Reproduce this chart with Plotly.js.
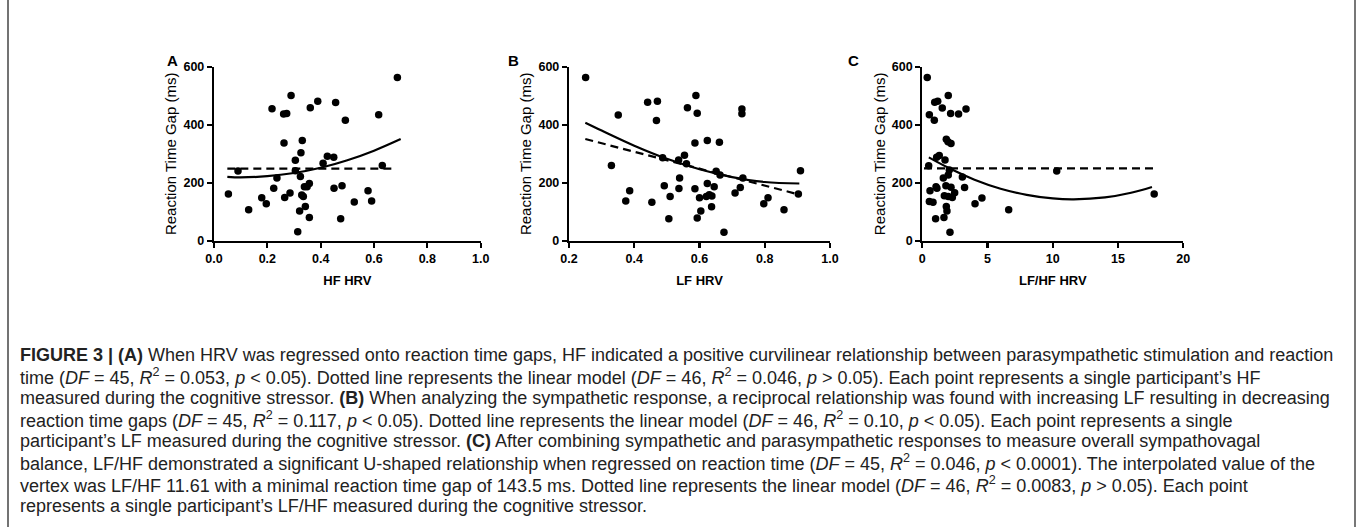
<!DOCTYPE html>
<html>
<head>
<meta charset="utf-8">
<script src="https://cdn.plot.ly/plotly-3.0.1.min.js"></script>
<style>html,body{margin:0;padding:0;background:#fff}#chart{width:1357px;height:527px}</style>
</head>
<body>
<div id="chart"></div>
<script>
// ---- Panel A: HF HRV vs Reaction Time Gap ----
const hfX = [0.054,0.09,0.13,0.179,0.196,0.2175,0.224,0.236,0.261,0.2725,0.2625,0.265,0.285,0.289,0.305,0.305,0.314,0.321,0.326,0.331,0.324,0.329,0.335,0.339,0.3425,0.349,0.3575,0.3575,0.361,0.389,0.409,0.425,0.449,0.45,0.456,0.475,0.48,0.4925,0.526,0.5775,0.591,0.6175,0.631,0.6875];
const hfY = [162,241,108,149,128,455,182,217,437,439,337,150,165,501,278,242,32,103,304,346,222,158,153,187,119,187,198,81,459,481,268,292,288,182,477,77,190,416,134,173,138,435,260,563];
const hfQuadX = [0.05,0.1,0.2,0.3,0.4,0.5,0.6,0.7];
const hfQuadY = [221,219,223,234,252,278,311,351];
const hfLinX = [0.05,0.666];
const hfLinY = [249,249];

// ---- Panel B: LF HRV vs Reaction Time Gap ----
const lfX = [0.251,0.351,0.33,0.374,0.386,0.441,0.471,0.468,0.454,0.487,0.492,0.506,0.51,0.536,0.539,0.537,0.554,0.56,0.563,0.589,0.593,0.586,0.586,0.593,0.6,0.604,0.624,0.624,0.621,0.63,0.638,0.637,0.645,0.651,0.661,0.675,0.663,0.709,0.725,0.73,0.73,0.733,0.797,0.81,0.859,0.9095,0.903];
const lfY = [563,434,260,138,173,478,481,415,133,287,190,77,153,279,217,181,295,266,459,501,440,337,180,79,149,103,346,198,153,159,155,118,187,240,340,30,227,165,184,454,438,217,128,149,108,242,162];
const lfQuadX = [0.25,0.3,0.4,0.5,0.6,0.7,0.8,0.906];
const lfQuadY = [407,380,328,283,247,220,203,198];
const lfLinX = [0.25,0.905];
const lfLinY = [351,160];

// ---- Panel C: LF/HF HRV vs Reaction Time Gap ----
const ratioX = [0.38,0.54,0.49,0.59,0.54,0.82,0.92,0.95,1.18,1.02,1.05,1.1,1.3,1.12,1.53,1.74,1.61,1.81,1.69,1.84,1.66,1.89,1.99,1.84,1.97,2.2,2.17,1.99,2.07,2.2,2.12,2.3,2.48,1.99,2.78,3.07,3.24,3.35,4.04,4.57,6.62,10.3,17.77];
const ratioY = [563,435,259,173,136,133,416,478,481,77,187,288,294,182,458,279,217,190,156,119,81,103,501,350,342,336,439,227,244,185,30,150,166,153,437,220,184,454,128,148,108,241,162];
const ratioQuadX = [0.5,2,4,6,8,10,11.61,14,16,17.6];
const ratioQuadY = [288,252,211,180,159,146.5,143.5,150,166,186];
const ratioLinX = [0.13,17.7];
const ratioLinY = [250,250];

// ---- Text ----
const panelLetters = ['A','B','C'];
const xTitles = ['HF HRV','LF HRV','LF/HF HRV'];
const yTitle = 'Reaction Time Gap (ms)';
const captionLines = [
 '<b>FIGURE 3 | (A)</b> When HRV was regressed onto reaction time gaps, HF indicated a positive curvilinear relationship between parasympathetic stimulation and reaction',
 'time (<i>DF</i> = 45, <i>R</i><sup>2</sup> = 0.053, <i>p</i> &lt; 0.05). Dotted line represents the linear model (<i>DF</i> = 46, <i>R</i><sup>2</sup> = 0.046, <i>p</i> &gt; 0.05). Each point represents a single participant\u2019s HF',
 'measured during the cognitive stressor. <b>(B)</b> When analyzing the sympathetic response, a reciprocal relationship was found with increasing LF resulting in decreasing',
 'reaction time gaps (<i>DF</i> = 45, <i>R</i><sup>2</sup> = 0.117, <i>p</i> &lt; 0.05). Dotted line represents the linear model (<i>DF</i> = 46, <i>R</i><sup>2</sup> = 0.10, <i>p</i> &lt; 0.05). Each point represents a single',
 'participant\u2019s LF measured during the cognitive stressor. <b>(C)</b> After combining sympathetic and parasympathetic responses to measure overall sympathovagal',
 'balance, LF/HF demonstrated a significant U-shaped relationship when regressed on reaction time (<i>DF</i> = 45, <i>R</i><sup>2</sup> = 0.046, <i>p</i> &lt; 0.0001). The interpolated value of the',
 'vertex was LF/HF 11.61 with a minimal reaction time gap of 143.5 ms. Dotted line represents the linear model (<i>DF</i> = 46, <i>R</i><sup>2</sup> = 0.0083, <i>p</i> &gt; 0.05). Each point',
 'represents a single participant\u2019s LF/HF measured during the cognitive stressor.'
];

const W = 1357, H = 527;
const px = v => v / W;
const py = v => 1 - v / H;

const pts = (x, y, xa, ya) => ({x, y, xaxis: xa, yaxis: ya, type: 'scatter', mode: 'markers',
  marker: {color: '#000', size: 7.5}, cliponaxis: false, hoverinfo: 'x+y', showlegend: false});
const curve = (x, y, xa, ya) => ({x, y, xaxis: xa, yaxis: ya, type: 'scatter', mode: 'lines',
  line: {color: '#000', width: 2.2, shape: 'spline'}, cliponaxis: false, showlegend: false});
const dash = (x, y, xa, ya) => ({x, y, xaxis: xa, yaxis: ya, type: 'scatter', mode: 'lines',
  line: {color: '#000', width: 2.2, dash: '8px,5px'}, cliponaxis: false, showlegend: false});

const data = [
  curve(hfQuadX, hfQuadY, 'x', 'y'), dash(hfLinX, hfLinY, 'x', 'y'), pts(hfX, hfY, 'x', 'y'),
  curve(lfQuadX, lfQuadY, 'x2', 'y2'), dash(lfLinX, lfLinY, 'x2', 'y2'), pts(lfX, lfY, 'x2', 'y2'),
  curve(ratioQuadX, ratioQuadY, 'x3', 'y3'), dash(ratioLinX, ratioLinY, 'x3', 'y3'), pts(ratioX, ratioY, 'x3', 'y3')
];

const tickFont = {family: 'Liberation Sans, Arial, sans-serif', size: 12.5, color: '#000', weight: 'bold'};
const xTitleFont = {family: 'Liberation Sans, Arial, sans-serif', size: 13, color: '#000'};
const yTitleFont = {family: 'Liberation Sans, Arial, sans-serif', size: 15, color: '#000'};

const yDom = [py(241), py(66.7)];
function xa(domain, range, tickvals, fmt, title) {
  return {domain, range, tickvals, tickformat: fmt, showline: true, linecolor: '#000', linewidth: 2.2,
    ticks: 'outside', ticklen: 5, tickwidth: 2.2, tickcolor: '#000', showgrid: false, zeroline: false,
    tickfont: tickFont, title: {text: '<b>' + title + '</b>', font: xTitleFont, standoff: 11}, fixedrange: true};
}
function ya(anchor, title) {
  return {domain: yDom, range: [0, 600], tickvals: [0, 200, 400, 600], showline: true, linecolor: '#000', linewidth: 2.2,
    ticks: 'outside', ticklen: 5, tickwidth: 2.2, tickcolor: '#000', showgrid: false, zeroline: false,
    tickfont: tickFont, anchor, title: {text: title, font: yTitleFont, standoff: 3}, fixedrange: true};
}

const xA = xa([px(214), px(480.7)], [0, 1], [0, 0.2, 0.4, 0.6, 0.8, 1.0], '.1f', xTitles[0]); xA.anchor = 'y';
const xB = xa([px(569), px(830)], [0.2, 1], [0.2, 0.4, 0.6, 0.8, 1.0], '.1f', xTitles[1]); xB.anchor = 'y2';
const xC = xa([px(922.3), px(1183.3)], [0, 20], [0, 5, 10, 15, 20], 'd', xTitles[2]); xC.anchor = 'y3';

const annotations = [];
const letterX = [172, 513, 853];
panelLetters.forEach((t, i) => annotations.push({xref: 'paper', yref: 'paper', x: px(letterX[i]), y: py(61),
  text: '<b>' + t + '</b>', showarrow: false, xanchor: 'center', yanchor: 'middle',
  font: {family: 'Liberation Sans, Arial, sans-serif', size: 15, color: '#000'}}));

const capTop = 355, capStep = 21.5;
captionLines.forEach((t, i) => annotations.push({xref: 'paper', yref: 'paper', x: px(18), y: py(capTop + i * capStep),
  text: t, showarrow: false, xanchor: 'left', yanchor: 'middle', align: 'left',
  font: {family: 'Liberation Sans, Arial, sans-serif', size: 18, color: '#222'}}));

const layout = {
  width: W, height: H, margin: {l: 0, r: 0, t: 0, b: 0},
  paper_bgcolor: '#fff', plot_bgcolor: 'rgba(0,0,0,0)', showlegend: false,
  xaxis: xA, yaxis: ya('x', yTitle),
  xaxis2: xB, yaxis2: ya('x2', yTitle),
  xaxis3: xC, yaxis3: ya('x3', yTitle),
  annotations,
  shapes: [
    {type: 'line', xref: 'paper', yref: 'paper', x0: px(8), x1: px(8), y0: 0, y1: 1, line: {color: '#444', width: 1.5}},
    {type: 'line', xref: 'paper', yref: 'paper', x0: px(1355), x1: px(1355), y0: 0, y1: 1, line: {color: '#777', width: 2}}
  ]
};

Plotly.newPlot('chart', data, layout, {displayModeBar: false, staticPlot: true});
</script>
</body>
</html>
